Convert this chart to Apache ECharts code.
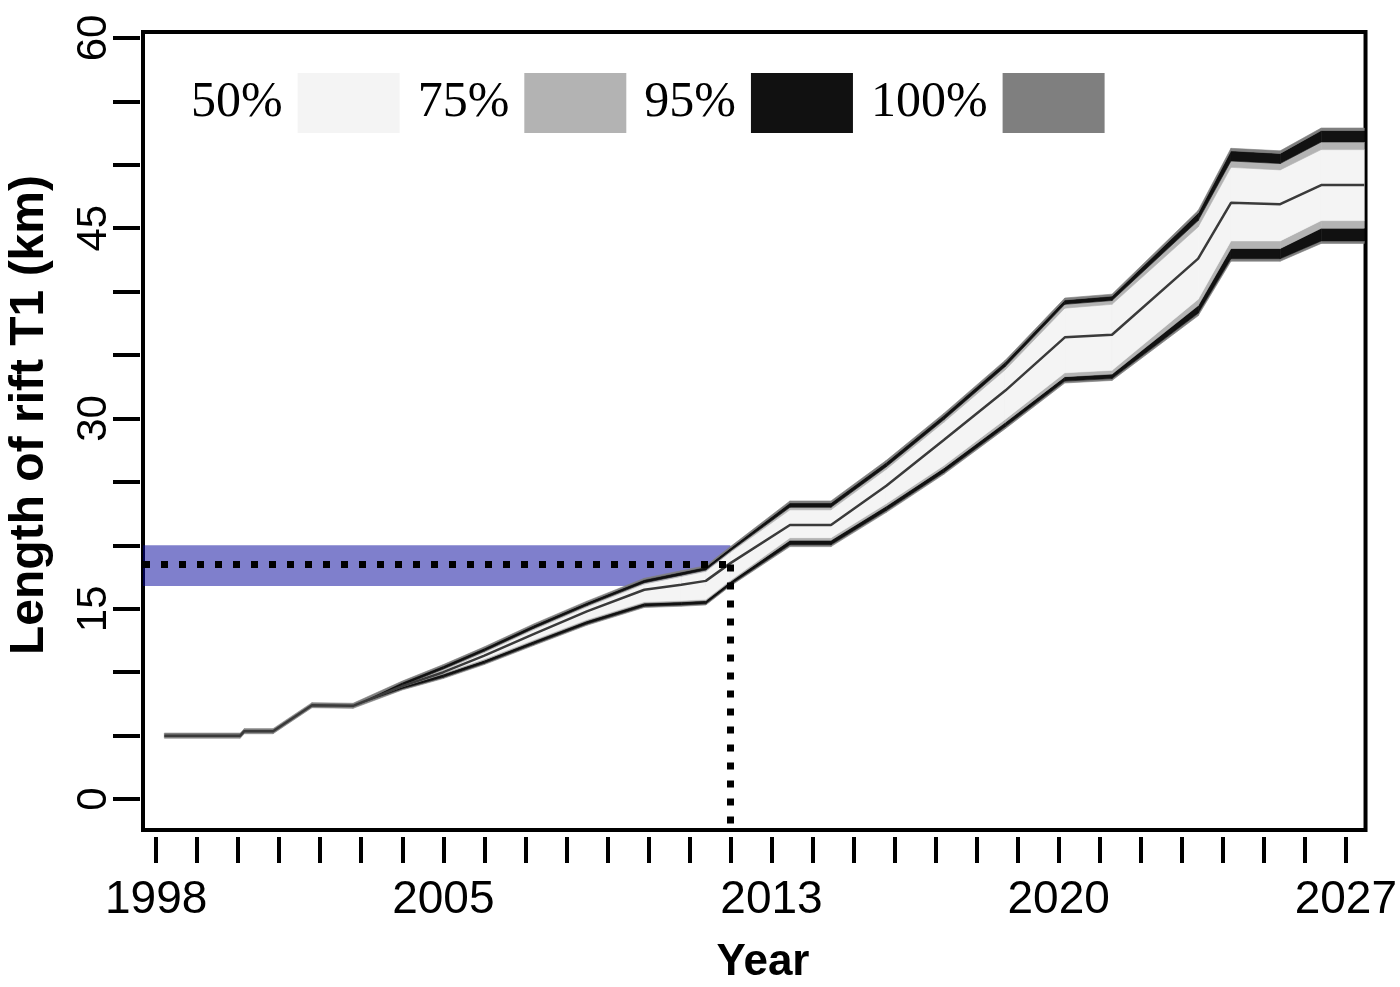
<!DOCTYPE html>
<html><head><meta charset="utf-8">
<script src="https://cdn.jsdelivr.net/npm/echarts@6/dist/echarts.min.js"></script>
<style>html,body{margin:0;padding:0;background:#fff}#c{width:1400px;height:987px}</style>
</head><body><div id="c"></div>
<script>
// ---- data ----
const years    = [1998.2, 2000.05, 2000.15, 2000.85, 2001.8, 2002.8, 2004.0, 2005.0, 2006.0, 2007.2, 2008.5, 2009.9, 2010.8, 2011.4, 2012.0, 2013.45, 2014.45, 2015.8, 2017.2, 2018.7, 2020.15, 2021.3, 2023.4, 2024.2, 2025.4, 2026.4, 2027.45];
const median   = [5.0, 5.0, 5.35, 5.35, 7.4, 7.35, 8.9, 10.0, 11.3, 13.0, 14.8, 16.5, 16.9, 17.2, 18.6, 21.6, 21.6, 24.7, 28.3, 32.2, 36.4, 36.6, 42.6, 47.0, 46.9, 48.4, 48.4];
const upper100 = [5.2, 5.2, 5.55, 5.55, 7.6, 7.55, 9.3, 10.6, 12.0, 13.8, 15.6, 17.4, 18.0, 18.4, 19.9, 23.5, 23.5, 26.7, 30.4, 34.6, 39.5, 39.8, 46.4, 51.3, 51.1, 52.9, 52.9];
const upper95  = [5.0, 5.0, 5.35, 5.35, 7.4, 7.35, 9.2, 10.5, 11.9, 13.7, 15.5, 17.3, 17.9, 18.3, 19.8, 23.35, 23.35, 26.55, 30.25, 34.45, 39.35, 39.65, 46.2, 51.1, 50.9, 52.7, 52.7];
const upper75  = [5.0, 5.0, 5.35, 5.35, 7.4, 7.35, 8.95, 10.25, 11.65, 13.45, 15.25, 17.05, 17.65, 18.05, 19.55, 23.0, 23.0, 26.2, 29.9, 34.1, 39.0, 39.3, 45.6, 50.3, 50.1, 51.8, 51.8];
const upper50  = [5.0, 5.0, 5.35, 5.35, 7.4, 7.35, 8.9, 10.15, 11.55, 13.35, 15.15, 16.95, 17.55, 17.95, 19.45, 22.8, 22.8, 26.0, 29.7, 33.85, 38.7, 39.0, 45.1, 49.8, 49.6, 51.2, 51.2];
const lower50  = [5.0, 5.0, 5.35, 5.35, 7.4, 7.35, 8.9, 9.95, 11.05, 12.55, 14.15, 15.55, 15.65, 15.75, 17.25, 20.6, 20.6, 23.3, 26.3, 29.95, 33.6, 33.8, 39.4, 44.0, 44.0, 45.6, 45.6];
const lower75  = [5.0, 5.0, 5.35, 5.35, 7.4, 7.35, 8.85, 9.85, 10.95, 12.45, 14.05, 15.45, 15.55, 15.65, 17.15, 20.4, 20.4, 23.1, 26.1, 29.7, 33.3, 33.5, 38.9, 43.4, 43.4, 45.0, 45.0];
const lower95  = [5.0, 5.0, 5.35, 5.35, 7.4, 7.35, 8.7, 9.6, 10.7, 12.2, 13.8, 15.2, 15.3, 15.4, 16.9, 20.05, 20.05, 22.75, 25.75, 29.35, 32.95, 33.15, 38.3, 42.6, 42.6, 44.0, 44.0];
const lower100 = [4.8, 4.8, 5.15, 5.15, 7.2, 7.15, 8.6, 9.5, 10.6, 12.1, 13.7, 15.1, 15.2, 15.3, 16.8, 19.9, 19.9, 22.6, 25.6, 29.2, 32.8, 33.0, 38.1, 42.4, 42.4, 43.8, 43.8];

const xTicks  = [1998,1999,2000,2001,2002,2003,2004,2005,2006,2007,2008,2009,2010,2011,2012,2013,2014,2015,2016,2017,2018,2019,2020,2021,2022,2023,2024,2025,2026,2027];
const xLabels = [1998, 2005, 2013, 2020, 2027];
const yTicks  = [0,5,10,15,20,25,30,35,40,45,50,55,60];
const yLabels = [0, 15, 30, 45, 60];

const legendNames  = ['50%', '75%', '95%', '100%'];
const legendColors = ['#f4f4f4', '#b3b3b3', '#111111', '#7f7f7f'];

const observedYear = 2012, observedLength = 18.5, observedLow = 16.8, observedHigh = 20;

// ---- axis extents ----
const xMin = 1997.68, xMax = 2027.48, yMin = -2.44, yMax = 60.47;

const colorOf = n => legendColors[legendNames.indexOf(n)];

// band layers: [legend name, lower edge, upper edge]
const layers = [
  ['100%', lower100, lower95],
  ['95%',  lower95,  lower75],
  ['75%',  lower75,  lower50],
  ['50%',  lower50,  upper50],
  ['75%',  upper50,  upper75],
  ['95%',  upper75,  upper95],
  ['100%', upper95,  upper100]
];

const series = [];
layers.forEach(([name, lo, hi]) => {
  const c = colorOf(name);
  const rows = [];
  for (let i = 0; i < years.length - 1; i++) {
    rows.push([years[i], lo[i], hi[i], years[i + 1], lo[i + 1], hi[i + 1]]);
  }
  series.push({
    name, type: 'custom', coordinateSystem: 'cartesian2d', silent: true, z: 2, clip: true,
    itemStyle: { color: c },
    encode: { x: [0, 3], y: [1, 2, 4, 5] },
    data: rows,
    renderItem: (params, api) => {
      const x0 = api.value(0), l0 = api.value(1), h0 = api.value(2);
      const x1 = api.value(3), l1 = api.value(4), h1 = api.value(5);
      const pts = [api.coord([x0, h0]), api.coord([x1, h1]), api.coord([x1, l1]), api.coord([x0, l0])];
      const open = (h0 - l0) > 1e-6 || (h1 - l1) > 1e-6;
      return {
        type: 'polygon', shape: { points: pts },
        style: open ? { fill: c, stroke: c, lineWidth: 0.6 } : { fill: c }
      };
    }
  });
});
series.push({
  type: 'line', data: years.map((x, i) => [x, median[i]]), symbol: 'none', silent: true, z: 3,
  lineStyle: { color: '#3a3a3a', width: 2.5 },
  markLine: {
    silent: true, symbol: ['none', 'none'], label: { show: false },
    lineStyle: { color: '#000', width: 7, type: [7, 11], cap: 'butt' },
    data: [
      [{ coord: [xMin, observedLength] }, { coord: [observedYear, observedLength] }],
      [{ coord: [observedYear, observedLength] }, { coord: [observedYear, yMin] }]
    ]
  }
});
series.push({
  type: 'line', data: [], z: 5, silent: true,
  markArea: {
    silent: true, itemStyle: { color: 'rgba(0,0,153,0.5)' },
    data: [[{ coord: [xMin, observedLow] }, { coord: [observedYear, observedHigh] }]]
  }
});

const chart = echarts.init(document.getElementById('c'), null, { renderer: 'canvas' });
chart.setOption({
  backgroundColor: '#fff',
  animation: false,
  grid: { left: 143, right: 33, top: 32, bottom: 157, show: true, borderColor: '#000', borderWidth: 4, backgroundColor: 'transparent' },
  legend: {
    left: 186, top: 68, align: 'right', icon: 'rect', itemWidth: 102, itemHeight: 60, itemGap: 18,
    selectedMode: false,
    textStyle: { fontFamily: 'Liberation Serif', fontSize: 50, color: '#000', padding: [0, 10, 0, 0] },
    data: legendNames.map((n, i) => ({ name: n, itemStyle: { color: legendColors[i], borderWidth: 0 } }))
  },
  xAxis: {
    type: 'value', min: xMin, max: xMax, offset: 7,
    axisLine: { show: false, onZero: false },
    splitLine: { show: false },
    axisTick: { show: true, length: 26, lineStyle: { color: '#000', width: 4 }, customValues: xTicks },
    axisLabel: { customValues: xLabels, margin: 40, fontFamily: 'Liberation Sans', fontSize: 46, color: '#000', formatter: v => String(v) }
  },
  yAxis: {
    type: 'value', min: yMin, max: yMax, offset: 3,
    axisLine: { show: false, onZero: false },
    splitLine: { show: false },
    axisTick: { show: true, length: 27, lineStyle: { color: '#000', width: 4 }, customValues: yTicks },
    axisLabel: { customValues: yLabels, rotate: 90, margin: 25, fontFamily: 'Liberation Sans', fontSize: 42, color: '#000', formatter: v => String(v) }
  },
  graphic: [
    { type: 'text', x: 30, y: 415, rotation: Math.PI / 2, style: { text: 'Length of rift T1 (km)', fontFamily: 'Liberation Sans', fontWeight: 'bold', fontSize: 48, fill: '#000', align: 'center', verticalAlign: 'middle' } },
    { type: 'text', x: 763, y: 963, style: { text: 'Year', fontFamily: 'Liberation Sans', fontWeight: 'bold', fontSize: 44, fill: '#000', align: 'center', verticalAlign: 'middle' } }
  ],
  series
});
</script></body></html>
